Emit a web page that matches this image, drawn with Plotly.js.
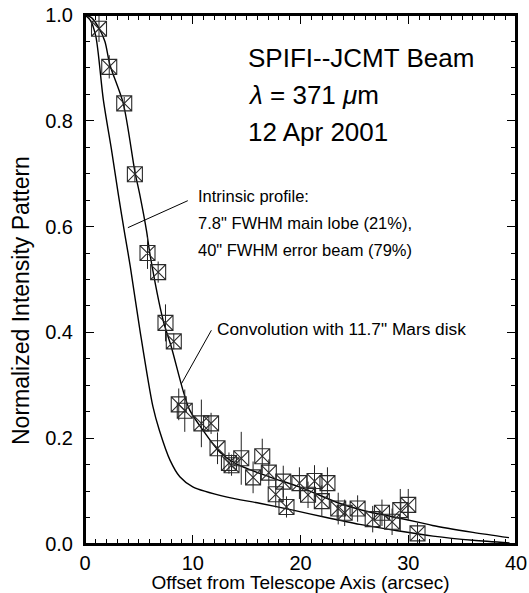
<!DOCTYPE html>
<html>
<head>
<meta charset="utf-8">
<script src="https://cdn.plot.ly/plotly-3.0.1.min.js"></script>
<style>html,body{margin:0;padding:0;background:#fff;overflow:hidden;}#chart{width:529px;height:593px;}</style>
</head>
<body>
<div id="chart"></div>
<script>
// Measured beam data (offset in arcsec, normalized intensity, 1-sigma error)
const offsetData = [1.3, 2.25, 3.64, 4.63, 5.8, 6.79, 7.47, 8.24, 8.7, 9.26, 10.8, 11.7, 12.3, 13.36, 13.6, 14.5, 15.6, 16.45, 17.06, 17.7, 18.4, 18.7, 19.9, 20.7, 21.3, 21.98, 22.5, 23.5, 24.1, 25.3, 26.7, 27.56, 28.5, 29.26, 30.0, 30.86];
const intensityData = [0.974, 0.902, 0.833, 0.699, 0.55, 0.514, 0.418, 0.383, 0.264, 0.252, 0.228, 0.228, 0.181, 0.153, 0.149, 0.162, 0.126, 0.166, 0.135, 0.094, 0.118, 0.07, 0.115, 0.093, 0.119, 0.081, 0.115, 0.067, 0.059, 0.067, 0.047, 0.059, 0.042, 0.064, 0.074, 0.02];
const intensityErr = [0.025, 0.022, 0.012, 0.015, 0.03, 0.02, 0.035, 0.015, 0.03, 0.04, 0.045, 0.02, 0.03, 0.02, 0.02, 0.05, 0.03, 0.033, 0.025, 0.025, 0.03, 0.02, 0.03, 0.025, 0.03, 0.03, 0.03, 0.03, 0.025, 0.025, 0.025, 0.025, 0.025, 0.04, 0.03, 0.02];

// Model: convolution with Mars disk (upper curve)
const convX = [0, 0.6, 1.3, 1.85, 2.31, 3.55, 4.63, 5.09, 5.71, 6.02, 7.25, 8.02, 9.1, 9.72, 10.95, 12.5, 14.0, 17.1, 19.9, 23.6, 26.1, 28.2, 31.0, 32.25, 36.0, 39.35];
const convY = [1.0, 0.995, 0.975, 0.95, 0.906, 0.833, 0.704, 0.66, 0.592, 0.549, 0.423, 0.372, 0.29, 0.253, 0.215, 0.174, 0.152, 0.127, 0.108, 0.077, 0.062, 0.053, 0.041, 0.035, 0.022, 0.012];

// Model: intrinsic profile (lower curve)
const intrX = [0, 0.5, 1.0, 1.7, 2.5, 3.1, 3.7, 4.2, 5.1, 6.3, 6.9, 7.9, 8.8, 10.0, 13.1, 16.2, 19.3, 22.4, 25.5, 29.0, 32.3, 36.0, 39.4];
const intrY = [1.0, 0.99, 0.96, 0.84, 0.74, 0.66, 0.585, 0.525, 0.404, 0.26, 0.215, 0.158, 0.127, 0.108, 0.089, 0.077, 0.064, 0.05, 0.037, 0.025, 0.015, 0.007, 0.002];

const xTicks = [0, 10, 20, 30, 40];
const yTicks = [0, 0.2, 0.4, 0.6, 0.8, 1.0];
const yTickText = ['0.0', '0.2', '0.4', '0.6', '0.8', '1.0'];

const font = 'Liberation Sans, Arial, Helvetica, sans-serif';

const traces = [
  {x: intrX, y: intrY, mode: 'lines', line: {color: '#000', width: 1.4, shape: 'spline', smoothing: 0.8}, hoverinfo: 'skip'},
  {x: convX, y: convY, mode: 'lines', line: {color: '#000', width: 1.4, shape: 'spline', smoothing: 0.8}, hoverinfo: 'skip'},
  {x: offsetData, y: intensityData, mode: 'markers',
   error_y: {type: 'data', array: intensityErr, visible: true, color: '#222', thickness: 1, width: 0},
   marker: {symbol: 'square-x-open', size: 15, color: '#2a2a2a', line: {width: 1.1, color: '#2a2a2a'}}}
];

const axisCommon = {
  showgrid: false, zeroline: false, showline: true, linecolor: '#000', linewidth: 2,
  mirror: 'allticks', ticks: 'inside', ticklen: 9, tickwidth: 1.3, tickcolor: '#000',
  tickfont: {family: font, size: 20, color: '#000'}
};

const layout = {
  width: 529, height: 593,
  margin: {l: 85, r: 13, t: 15, b: 49},
  paper_bgcolor: '#fff', plot_bgcolor: '#fff',
  showlegend: false,
  xaxis: Object.assign({}, axisCommon, {
    range: [0, 40], tickvals: xTicks, ticktext: xTicks.map(String),
    minor: {dtick: 1, ticklen: 5, ticks: 'inside', tickcolor: '#000', tickwidth: 1},
    title: {text: 'Offset from Telescope Axis (arcsec)', font: {family: font, size: 19, color: '#000'}, standoff: 2}
  }),
  yaxis: Object.assign({}, axisCommon, {
    range: [0, 1.0], tickvals: yTicks, ticktext: yTickText,
    minor: {dtick: 0.05, ticklen: 5, ticks: 'inside', tickcolor: '#000', tickwidth: 1},
    ticklabelstandoff: 6
  }),
  shapes: [
    {type: 'rect', xref: 'paper', yref: 'paper', x0: 0, y0: 0, x1: 1, y1: 1, line: {color: '#000', width: 2}, layer: 'above'},
    {type: 'line', xref: 'x', yref: 'y', x0: 9.54, y0: 0.649, x1: 3.98, y1: 0.598, line: {color: '#000', width: 1}},
    {type: 'line', xref: 'x', yref: 'y', x0: 11.73, y0: 0.404, x1: 8.95, y1: 0.303, line: {color: '#000', width: 1}}
  ],
  annotations: [
    {xref: 'paper', yref: 'paper', x: -0.15, y: 0.46, xanchor: 'center', yanchor: 'middle', textangle: -90, showarrow: false, text: 'Normalized Intensity Pattern', font: {family: font, size: 23, color: '#000'}},
    {xref: 'x', yref: 'y', x: 14.9, y: 0.918, xanchor: 'left', yanchor: 'middle', showarrow: false, text: 'SPIFI--JCMT Beam', font: {family: font, size: 26, color: '#000'}},
    {xref: 'x', yref: 'y', x: 14.9, y: 0.849, xanchor: 'left', yanchor: 'middle', showarrow: false, text: '<i>λ</i> = 371 <i>μ</i>m', font: {family: font, size: 26, color: '#000'}},
    {xref: 'x', yref: 'y', x: 14.9, y: 0.779, xanchor: 'left', yanchor: 'middle', showarrow: false, text: '12 Apr 2001', font: {family: font, size: 26, color: '#000'}},
    {xref: 'x', yref: 'y', x: 10.3, y: 0.657, xanchor: 'left', yanchor: 'middle', showarrow: false, text: 'Intrinsic profile:', font: {family: font, size: 16.5, color: '#000'}},
    {xref: 'x', yref: 'y', x: 10.3, y: 0.606, xanchor: 'left', yanchor: 'middle', showarrow: false, text: '7.8" FWHM main lobe (21%),', font: {family: font, size: 16.5, color: '#000'}},
    {xref: 'x', yref: 'y', x: 10.3, y: 0.556, xanchor: 'left', yanchor: 'middle', showarrow: false, text: '40" FWHM error beam (79%)', font: {family: font, size: 16.5, color: '#000'}},
    {xref: 'x', yref: 'y', x: 12.05, y: 0.406, xanchor: 'left', yanchor: 'middle', showarrow: false, text: 'Convolution with 11.7" Mars disk', font: {family: font, size: 17.3, color: '#000'}}
  ]
};

Plotly.newPlot('chart', traces, layout, {displayModeBar: false, staticPlot: true});
</script>
</body>
</html>
